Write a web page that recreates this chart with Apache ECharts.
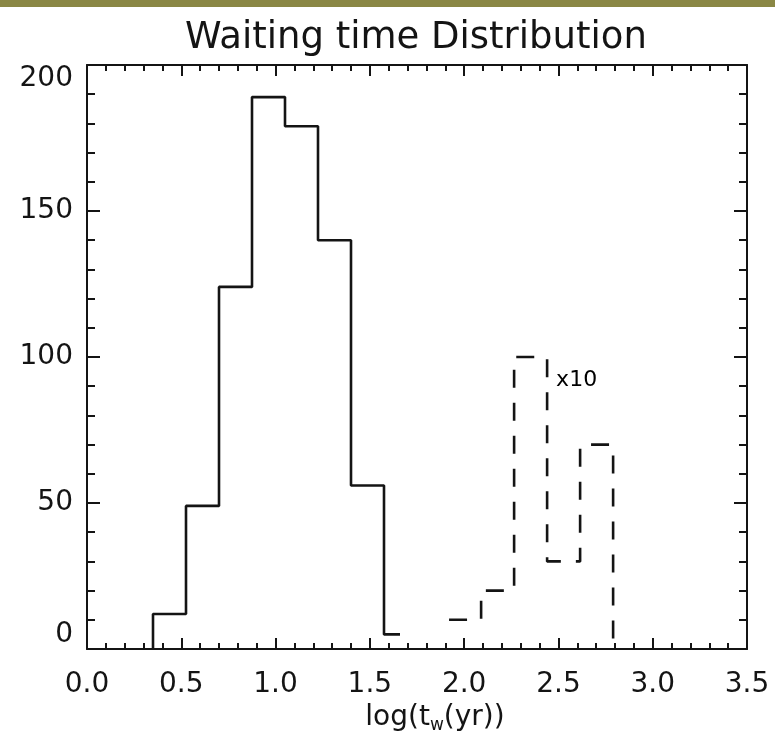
<!DOCTYPE html>
<html>
<head>
<meta charset="utf-8">
<title>Waiting time Distribution</title>
<script src="https://cdn.jsdelivr.net/npm/echarts@6/dist/echarts.min.js"></script>
<style>
  html, body { margin: 0; padding: 0; background: #ffffff; }
  #chart { width: 775px; height: 741px; }
</style>
</head>
<body>
<div id="chart"></div>
<script>
// Histogram of log waiting times (years).
// Short waits: bin edges and counts.
const shortEdges  = [0.35, 0.525, 0.70, 0.875, 1.05, 1.225, 1.40, 1.575, 1.66];
const shortCounts = [12, 49, 124, 189, 179, 140, 56, 5];

// Long waits: bin edges and raw counts, drawn multiplied by longScale.
const longEdges  = [1.92, 2.09, 2.265, 2.44, 2.615, 2.79];
const longCounts = [1, 2, 10, 3, 7];
const longScale  = 10;

// Axis ticks
const xTicks = [0.0, 0.5, 1.0, 1.5, 2.0, 2.5, 3.0, 3.5];
const yTicks = [0, 50, 100, 150, 200];

// Staircase outline for a histogram: rises at the first edge,
// steps across each bin, optionally drops back to zero at the end.
function staircase(edges, counts, scale, closeEnd, openStart) {
  const pts = [];
  if (!openStart) pts.push([edges[0], 0]);
  for (let i = 0; i < counts.length; i++) {
    const v = counts[i] * scale;
    pts.push([edges[i], v]);
    pts.push([edges[i + 1], v]);
  }
  if (closeEnd) pts.push([edges[counts.length], 0]);
  return pts;
}

const shortLine = staircase(shortEdges, shortCounts, 1, false, false);
const longLine  = staircase(longEdges, longCounts, longScale, true, true);

const FONT = '"DejaVu Sans", sans-serif';
const INK = '#141414';

const chart = echarts.init(document.getElementById('chart'), null, { renderer: 'canvas' });

const baseX = {
  type: 'value',
  min: xTicks[0],
  max: xTicks[xTicks.length - 1],
  interval: 0.5,
  splitLine: { show: false },
  axisLine: { show: true, onZero: false, lineStyle: { color: INK, width: 2 } },
  axisTick: { show: true, inside: true, length: 11, lineStyle: { color: INK, width: 2 } },
  minorTick: { show: true, splitNumber: 5, length: 6, lineStyle: { color: INK, width: 2 } },
  minorSplitLine: { show: false }
};

const baseY = {
  type: 'value',
  min: yTicks[0],
  max: yTicks[yTicks.length - 1],
  interval: 50,
  splitLine: { show: false },
  axisLine: { show: true, onZero: false, lineStyle: { color: INK, width: 2 } },
  axisTick: { show: true, inside: true, length: 13, lineStyle: { color: INK, width: 2 } },
  minorTick: { show: true, splitNumber: 5, length: 8, lineStyle: { color: INK, width: 2 } },
  minorSplitLine: { show: false }
};

const option = {
  animation: false,
  backgroundColor: '#ffffff',
  title: {
    text: 'Waiting time Distribution',
    left: 180,
    top: 15,
    textStyle: { fontFamily: FONT, fontSize: 37, fontWeight: 'normal', color: INK }
  },
  graphic: [{
    type: 'rect',
    left: 0, top: 0,
    shape: { width: 775, height: 7 },
    style: { fill: '#8a8745' },
    silent: true
  }],
  grid: { left: 87, right: 28, top: 65, bottom: 92, outerBoundsMode: 'none' },
  xAxis: [
    Object.assign({}, baseX, {
      position: 'bottom',
      name: '{n|log(t}{s|w}{n|(yr))}',
      nameLocation: 'middle',
      nameGap: 47,
      nameTextStyle: {
        padding: [0, 0, 0, 36],
        rich: {
          n: { fontFamily: FONT, fontSize: 28, color: INK },
          s: { fontFamily: FONT, fontSize: 17, color: INK, padding: [16, 0, 0, 0] }
        }
      },
      axisLabel: {
        show: true, margin: 22,
        fontFamily: FONT, fontSize: 28, color: INK,
        formatter: v => v.toFixed(1)
      }
    }),
    Object.assign({}, baseX, {
      position: 'top',
      axisLabel: { show: false }
    })
  ],
  yAxis: [
    Object.assign({}, baseY, {
      position: 'left',
      axisLabel: {
        show: true, margin: 14,
        fontFamily: FONT, fontSize: 28, color: INK,
        verticalAlignMinLabel: 'bottom',
        verticalAlignMaxLabel: 'top',
        formatter: v => String(v)
      }
    }),
    Object.assign({}, baseY, {
      position: 'right',
      axisLabel: { show: false }
    })
  ],
  series: [
    {
      name: 'short',
      type: 'line',
      xAxisIndex: 0, yAxisIndex: 0,
      data: shortLine,
      showSymbol: false,
      symbol: 'none',
      lineStyle: { color: INK, width: 2.6, type: 'solid' },
      z: 5
    },
    {
      name: 'long',
      type: 'line',
      xAxisIndex: 0, yAxisIndex: 0,
      data: longLine,
      showSymbol: false,
      symbol: 'none',
      lineStyle: { color: INK, width: 2.6, type: [18, 15] },
      z: 5
    },
    {
      // scale annotation next to the tallest long-wait bin
      name: 'scaleNote',
      type: 'scatter',
      xAxisIndex: 0, yAxisIndex: 0,
      symbol: 'circle',
      symbolSize: 0,
      silent: true,
      itemStyle: { opacity: 1, color: INK },
      data: [[longEdges[3], longCounts[2] * longScale * 0.92]],
      label: {
        show: true,
        position: 'right',
        distance: 9,
        formatter: 'x' + longScale,
        fontFamily: FONT, fontSize: 22, color: '#000000', opacity: 1
      },
      z: 6
    }
  ]
};

chart.setOption(option);
</script>
</body>
</html>
